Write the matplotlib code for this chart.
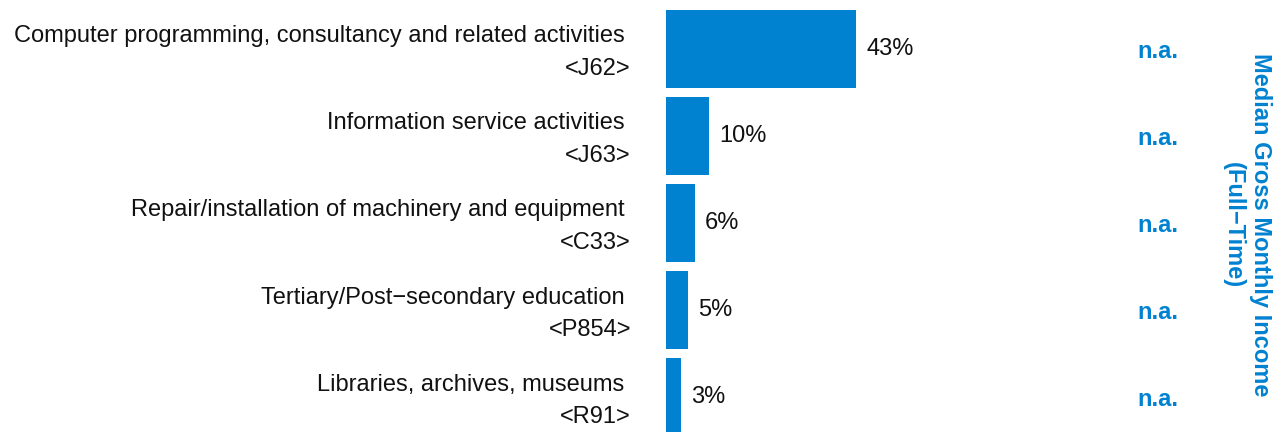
import matplotlib
matplotlib.use('Agg')
import matplotlib.pyplot as plt
import matplotlib.transforms as mtransforms

plt.rcParams['font.family'] = ['Liberation Sans', 'DejaVu Sans']

# datos
actividades = ['Computer programming, consultancy and related activities',
               'Information service activities',
               'Repair/installation of machinery and equipment',
               'Tertiary/Post\u2212secondary education',
               'Libraries, archives, museums']
codigos = ['<J62>', '<J63>', '<C33>', '<P854>', '<R91>']
porcentajes = [43.0, 9.8, 6.5, 5.0, 3.4]
etiquetas_pct = ['43%', '10%', '6%', '5%', '3%']
ingreso = ['n.a.', 'n.a.', 'n.a.', 'n.a.', 'n.a.']
titulo_derecha = 'Median Gross Monthly Income\n(Full\u2212Time)'

azul = '#0082D1'
negro = '#111111'

W, H = 1282, 432
fig = plt.figure(figsize=(W / 100, H / 100), dpi=100)
ax = fig.add_axes([666 / W, 0, 442 / W, 1])

pos = list(range(len(porcentajes)))
ax.barh(pos, porcentajes, height=0.9, color=azul)
ax.set_xlim(0, 100)
ax.set_ylim(4.4, -0.563)
ax.axis('off')

# etiquetas de valor
for p, v, t in zip(pos, porcentajes, etiquetas_pct):
    ax.annotate(t, (v, p), xytext=(10, 0), textcoords='offset pixels',
                va='center', ha='left', fontsize=17, color=negro)

# etiquetas de la izquierda y n.a.
trans = mtransforms.blended_transform_factory(fig.transFigure, ax.transData)
for p, a, c, n in zip(pos, actividades, codigos, ingreso):
    ax.text(631 / W, p + 0.04, a + ' \n' + c, transform=trans, ha='right', va='center',
            multialignment='right', fontsize=17, linespacing=1.6, color=negro)
    ax.text(1158 / W, p + 0.03, n, transform=trans, ha='center', va='center',
            fontsize=17, fontweight='bold', color=azul)

fig.text(1247 / W, 1 - 225 / H, titulo_derecha, rotation=-90, ha='center', va='center',
         fontsize=17, fontweight='bold', color=azul, linespacing=1.2)

fig.savefig('out.png', dpi=100)
